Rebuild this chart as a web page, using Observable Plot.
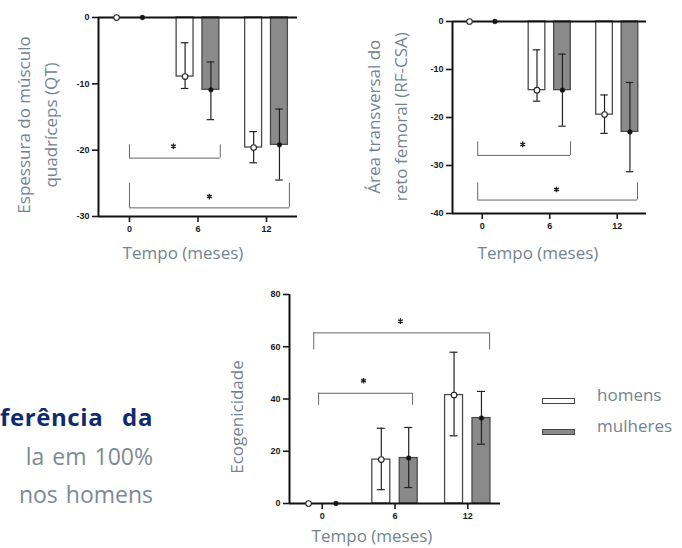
<!DOCTYPE html>
<html><head><meta charset="utf-8">
<script src="https://cdn.jsdelivr.net/npm/d3@7"></script>
<script src="https://cdn.jsdelivr.net/npm/@observablehq/plot@0.6"></script>
<style>
body{margin:0;background:#fff;}
#root{position:relative;width:682px;height:548px;overflow:hidden;font-family:"Open Sans",sans-serif;background:#fff;}
.lab{position:absolute;color:#74838f;font-size:17px;font-weight:400;white-space:nowrap;text-align:center;}
.rot{display:flex;flex-direction:column;justify-content:center;transform:rotate(-90deg);}
.leg{position:absolute;box-sizing:border-box;border:1.3px solid #444;}
.txt{position:absolute;font-size:23px;white-space:nowrap;line-height:30px;}
</style></head><body><div id="root"></div>
<script>
// ---- dados ----
const tempos = [0, 6, 12];
const sexos = ["homens", "mulheres"];

// Painel 1: Espessura do músculo quadríceps (QT)
const qtHomens     = [0, -8.9, -19.6];
const qtHomensLo   = [0, -10.7, -21.9];
const qtHomensHi   = [0, -3.8, -17.2];
const qtMulheres   = [0, -10.9, -19.2];
const qtMulheresLo = [0, -15.4, -24.5];
const qtMulheresHi = [0, -6.7, -13.8];
const qtTicks = [0, -10, -20, -30];
const qtBrX1 = [0, 0], qtBrX2 = [7.95, 14.0], qtBrY = [-21.2, -28.7], qtBrEnd = [-19.2, -25.0];
const qtStarX = [3.85, 7.0], qtStarY = [-19.4, -27.0];

// Painel 2: Área transversal do reto femoral (RF-CSA)
const rfHomens     = [0, -14.3, -19.4];
const rfHomensLo   = [0, -16.6, -23.3];
const rfHomensHi   = [0, -5.9, -15.3];
const rfMulheres   = [0, -14.3, -23.0];
const rfMulheresLo = [0, -21.8, -31.3];
const rfMulheresHi = [0, -6.8, -12.7];
const rfTicks = [0, -10, -20, -30, -40];
const rfBrX1 = [-0.4, -0.4], rfBrX2 = [7.85, 13.8], rfBrY = [-27.9, -37.2], rfBrEnd = [-25.1, -33.6];
const rfStarX = [3.6, 6.6], rfStarY = [-25.6, -35.0];

// Painel 3: Ecogenicidade
const ecoHomens     = [0, 16.8, 41.5];
const ecoHomensLo   = [0, 5.3, 25.9];
const ecoHomensHi   = [0, 28.8, 57.9];
const ecoMulheres   = [0, 17.4, 32.7];
const ecoMulheresLo = [0, 6.1, 22.7];
const ecoMulheresHi = [0, 29.1, 42.9];
const ecoTicks = [0, 20, 40, 60, 80];
const ecoBrX1 = [-0.3, -0.7], ecoBrX2 = [7.45, 13.8], ecoBrY = [42.2, 65.3], ecoBrEnd = [37.6, 58.8];
const ecoStarX = [3.4, 6.45], ecoStarY = [47.0, 69.8];

// ---- construção ----
const off = {homens: -1.13, mulheres: 1.13};
const half = 0.74, cap = 0.33;
const xPos = d => d.tempo + off[d.sexo];

function rowsOf(h, hLo, hHi, m, mLo, mHi) {
  const out = [];
  tempos.forEach((t, i) => {
    out.push({tempo: t, sexo: "homens", valor: h[i], lo: hLo[i], hi: hHi[i]});
    out.push({tempo: t, sexo: "mulheres", valor: m[i], lo: mLo[i], hi: mHi[i]});
  });
  return out;
}
function bracketsOf(x1, x2, y, yEnd) {
  return x1.map((_, i) => ({x1: x1[i], x2: x2[i], y: y[i], yEnd: yEnd[i]}));
}

function panel(cfg) {
  const rows = cfg.rows;
  const bars = rows.filter(d => d.valor !== 0);
  const errs = rows.filter(d => d.lo !== d.hi);
  const br = cfg.brackets;
  const stars = cfg.starX.map((x, i) => ({x, y: cfg.starY[i]}));
  const marks = [
    Plot.rectY(bars, {x1: d => xPos(d) - half, x2: d => xPos(d) + half, y1: 0, y2: "valor",
      fill: d => d.sexo === "homens" ? "#ffffff" : "#8a8a8a", stroke: "#4a4a4a", strokeWidth: 1.3}),
    Plot.ruleX(errs, {x: xPos, y1: "lo", y2: "hi", stroke: "#222", strokeWidth: 1.2}),
    Plot.ruleY(errs, {y: "lo", x1: d => xPos(d) - cap, x2: d => xPos(d) + cap, stroke: "#222", strokeWidth: 1.2}),
    Plot.ruleY(errs, {y: "hi", x1: d => xPos(d) - cap, x2: d => xPos(d) + cap, stroke: "#222", strokeWidth: 1.2}),
    Plot.ruleY(br, {y: "y", x1: "x1", x2: "x2", stroke: "#666", strokeWidth: 1}),
    Plot.ruleX(br, {x: "x1", y1: "y", y2: "yEnd", stroke: "#666", strokeWidth: 1}),
    Plot.ruleX(br, {x: "x2", y1: "y", y2: "yEnd", stroke: "#666", strokeWidth: 1}),
    Plot.dot(stars, {x: "x", y: "y", symbol: "asterisk", r: 2.6, stroke: "#222", strokeWidth: 1.4}),
    Plot.ruleX([cfg.xDomain[0]], {stroke: "#111", strokeWidth: 2}),
    Plot.ruleY([cfg.yDomain[0]], {stroke: "#111", strokeWidth: 2}),
    ...(cfg.zeroLine ? [Plot.ruleY([0], {stroke: "#111", strokeWidth: 2})] : []),
    Plot.dot(rows, {x: xPos, y: "valor",
      r: d => d.sexo === "homens" ? 2.8 : 2.4,
      fill: d => d.sexo === "homens" ? "#fff" : "#111",
      stroke: "#222", strokeWidth: d => d.sexo === "homens" ? 1.1 : 0.5}),
    Plot.axisY({ticks: cfg.yTicks, tickSize: 6, tickPadding: 3, strokeWidth: 1.6, label: null, tickFormat: d => String(d).replace("−", "-")}),
    Plot.axisX({ticks: tempos, tickSize: 6, tickPadding: 3, strokeWidth: 1.6, label: null})
  ];
  const svg = Plot.plot({
    width: cfg.width, height: cfg.height,
    marginLeft: cfg.ml, marginRight: cfg.mr, marginTop: cfg.mt, marginBottom: cfg.mb,
    x: {type: "linear", domain: cfg.xDomain},
    y: {type: "linear", domain: cfg.yDomain},
    r: {type: "identity"},
    style: {fontFamily: "'Liberation Sans', Arial, sans-serif", fontSize: "9px", fontWeight: "bold", color: "#1a1a1a", background: "transparent", overflow: "visible"},
    marks
  });
  svg.style.position = "absolute";
  svg.style.left = cfg.left + "px";
  svg.style.top = cfg.top + "px";
  return svg;
}

const root = document.getElementById("root");

root.appendChild(panel({
  rows: rowsOf(qtHomens, qtHomensLo, qtHomensHi, qtMulheres, qtMulheresLo, qtMulheresHi),
  brackets: bracketsOf(qtBrX1, qtBrX2, qtBrY, qtBrEnd), starX: qtStarX, starY: qtStarY,
  xDomain: [-2.71, 14.71], yDomain: [-30, 0], yTicks: qtTicks, zeroLine: true,
  left: 0, top: 0, width: 300, height: 240, ml: 98, mr: 3, mt: 17, mb: 24
}));
root.appendChild(panel({
  rows: rowsOf(rfHomens, rfHomensLo, rfHomensHi, rfMulheres, rfMulheresLo, rfMulheresHi),
  brackets: bracketsOf(rfBrX1, rfBrX2, rfBrY, rfBrEnd), starX: rfStarX, starY: rfStarY,
  xDomain: [-2.64, 14.6], yDomain: [-40, 0], yTicks: rfTicks, zeroLine: true,
  left: 340, top: 0, width: 342, height: 240, ml: 112, mr: 36, mt: 21, mb: 27
}));
root.appendChild(panel({
  rows: rowsOf(ecoHomens, ecoHomensLo, ecoHomensHi, ecoMulheres, ecoMulheresLo, ecoMulheresHi),
  brackets: bracketsOf(ecoBrX1, ecoBrX2, ecoBrY, ecoBrEnd), starX: ecoStarX, starY: ecoStarY,
  xDomain: [-2.7, 14.7], yDomain: [0, 80], yTicks: ecoTicks, zeroLine: false,
  left: 200, top: 280, width: 310, height: 262, ml: 89, mr: 10, mt: 14, mb: 39
}));

// ---- textos ----
function addLabel(lines, cx, cy, w, lh, rotate) {
  const d = document.createElement("div");
  d.className = "lab" + (rotate ? " rot" : "");
  const h = lh * lines.length;
  d.style.width = w + "px"; d.style.height = h + "px";
  d.style.left = (cx - w / 2) + "px"; d.style.top = (cy - h / 2) + "px";
  d.style.lineHeight = lh + "px";
  lines.forEach(t => { const s = document.createElement("div"); s.textContent = t; d.appendChild(s); });
  root.appendChild(d);
}
addLabel(["Espessura do músculo", "quadríceps (QT)"], 36.5, 125, 230, 27, true);
addLabel(["Área transversal do", "reto femoral (RF-CSA)"], 388.3, 117, 230, 26.7, true);
addLabel(["Ecogenicidade"], 236.7, 416.7, 160, 24, true);
addLabel(["Tempo (meses)"], 183, 253, 160, 24, false);
addLabel(["Tempo (meses)"], 538, 253, 160, 24, false);
addLabel(["Tempo (meses)"], 372, 536, 160, 18, false);

// legenda
const legNames = sexos;
const legFill = ["#ffffff", "#8a8a8a"];
const legY = [398, 429];
legNames.forEach((n, i) => {
  const r = document.createElement("div");
  r.className = "leg";
  Object.assign(r.style, {left: "542px", top: legY[i] + "px", width: "33px", height: "6px", background: legFill[i]});
  root.appendChild(r);
  const t = document.createElement("div");
  t.className = "lab";
  Object.assign(t.style, {left: "597px", top: (legY[i] - 13) + "px", lineHeight: "20px", textAlign: "left"});
  t.textContent = n;
  root.appendChild(t);
});

// texto lateral
const l1 = document.createElement("div");
l1.className = "txt";
Object.assign(l1.style, {left: "0px", top: "402px", width: "153px", display: "flex", justifyContent: "space-between", color: "#0f2a6e", fontWeight: "700", fontSize: "24px", letterSpacing: "0.6px"});
l1.innerHTML = "<span>ferência</span><span>da</span>";
root.appendChild(l1);
[["la em 100%", 441], ["nos homens", 479]].forEach(([s, top]) => {
  const d = document.createElement("div");
  d.className = "txt";
  Object.assign(d.style, {left: "0px", top: top + "px", width: "153px", textAlign: "right", color: "#7d8a94", wordSpacing: "2px"});
  d.textContent = s;
  root.appendChild(d);
});
</script>
</body></html>
